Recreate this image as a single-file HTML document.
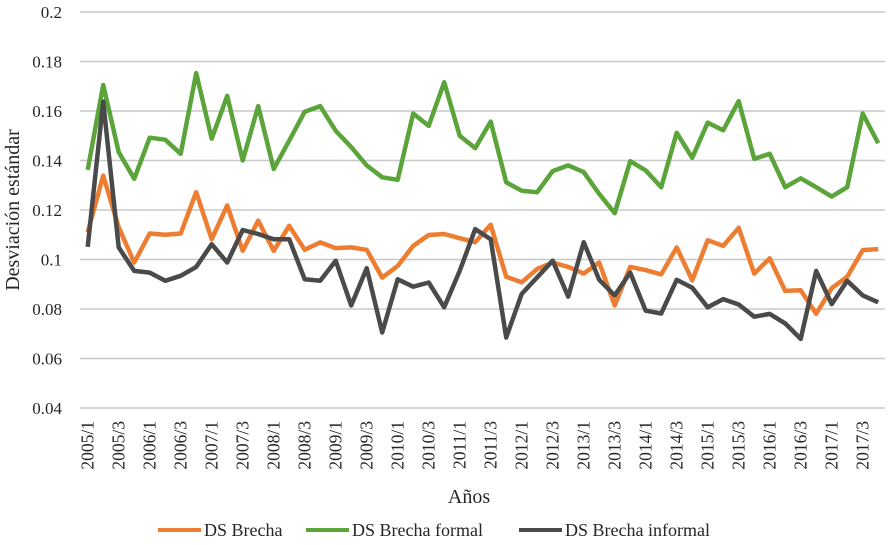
<!DOCTYPE html>
<html><head><meta charset="utf-8"><style>
body{margin:0;background:#fff;}
svg text{font-family:"Liberation Serif",serif;fill:#262626;}
</style></head><body>
<svg id="chart" width="891" height="540" xmlns="http://www.w3.org/2000/svg">
<g id="grid"></g><g id="yticks"></g><g id="xticks"></g><g id="series"></g>
<text x="19" y="210" font-size="20" text-anchor="middle" transform="rotate(-90 19 210)">Desviación estándar</text>
<text x="469" y="503" font-size="20" text-anchor="middle">Años</text>
<g>
<g><line x1="158" y1="530" x2="201" y2="530" stroke="#ED7D31" stroke-width="4"/><text x="204" y="536" font-size="18">DS Brecha</text></g>
<g><line x1="306" y1="530" x2="349" y2="530" stroke="#5AA43A" stroke-width="4"/><text x="352" y="536" font-size="18">DS Brecha formal</text></g>
<g><line x1="519" y1="530" x2="562" y2="530" stroke="#4A4A4A" stroke-width="4"/><text x="565" y="536" font-size="18">DS Brecha informal</text></g>
</g>
</svg>
<script>
const yTicks=[0.04,0.06,0.08,0.1,0.12,0.14,0.16,0.18,0.2];
const yTickLabels=["0.04","0.06","0.08","0.1","0.12","0.14","0.16","0.18","0.2"];
const years=[2005,2006,2007,2008,2009,2010,2011,2012,2013,2014,2015,2016,2017];
const dsBrecha=[0.111,0.1339,0.113,0.0988,0.1105,0.110,0.1105,0.1272,0.1082,0.1218,0.1035,0.1157,0.1035,0.1136,0.1039,0.1069,0.1046,0.1049,0.1039,0.0927,0.0974,0.1055,0.1099,0.1103,0.1086,0.107,0.114,0.093,0.0908,0.0962,0.0988,0.097,0.0943,0.0988,0.0814,0.097,0.0957,0.094,0.1049,0.0916,0.1078,0.1055,0.1128,0.0943,0.1005,0.0873,0.0876,0.078,0.0884,0.093,0.1038,0.1042];
const dsFormal=[0.1362,0.1705,0.1434,0.1326,0.1492,0.1484,0.1427,0.1753,0.1488,0.1661,0.14,0.162,0.1366,0.148,0.1597,0.162,0.152,0.1454,0.138,0.1332,0.1322,0.159,0.154,0.1716,0.150,0.145,0.1557,0.1312,0.1278,0.1272,0.1357,0.138,0.1353,0.1265,0.1187,0.1397,0.136,0.1292,0.1512,0.1411,0.1553,0.1522,0.164,0.1407,0.1427,0.1292,0.1328,0.1292,0.1254,0.1292,0.159,0.147];
const dsInformal=[0.1051,0.1638,0.1049,0.0954,0.0947,0.0914,0.0934,0.097,0.1062,0.0988,0.1119,0.1103,0.1082,0.1082,0.092,0.0914,0.0995,0.0814,0.0965,0.0705,0.092,0.089,0.0907,0.0807,0.0954,0.1123,0.1082,0.0685,0.0861,0.0928,0.0995,0.085,0.107,0.0918,0.0855,0.0947,0.0793,0.0782,0.0918,0.0886,0.0807,0.084,0.0818,0.0769,0.078,0.0742,0.0679,0.0954,0.082,0.0914,0.0855,0.0827];
const NS="http://www.w3.org/2000/svg";
const x0=87.7, dx=15.5;
function xPos(i){return x0+dx*i;}
function yPos(v){return 408-(v-0.04)/0.16*396;}
const grid=document.getElementById('grid'),yt=document.getElementById('yticks'),xt=document.getElementById('xticks'),ser=document.getElementById('series');
yTicks.forEach((v,k)=>{
 const l=document.createElementNS(NS,'line');
 l.setAttribute('x1',80);l.setAttribute('x2',885);l.setAttribute('y1',yPos(v));l.setAttribute('y2',yPos(v));
 l.setAttribute('stroke','#c8c8c8');l.setAttribute('stroke-width','1.5');
 
 
 grid.appendChild(l);
 const t=document.createElementNS(NS,'text');
 t.setAttribute('x',62);t.setAttribute('y',yPos(v)+6);t.setAttribute('text-anchor','end');t.setAttribute('font-size','17');
 t.textContent=yTickLabels[k];
 
 
 yt.appendChild(t);
});
let idx=0;
years.forEach(y=>{[1,3].forEach(q=>{
 const i=idx*2; idx++;
 const t=document.createElementNS(NS,'text');
 const cx=xPos(i)+6;
 t.setAttribute('x',cx);t.setAttribute('y',421);t.setAttribute('text-anchor','end');t.setAttribute('font-size','17.5');
 t.setAttribute('transform','rotate(-90 '+cx+' 421)');
 t.textContent=y+'/'+q;
 
 
 xt.appendChild(t);
});});
[[dsBrecha,'#ED7D31','series-ds-brecha'],[dsFormal,'#5AA43A','series-ds-brecha-formal'],[dsInformal,'#4A4A4A','series-ds-brecha-informal']].forEach(([d,c,n])=>{
 const p=document.createElementNS(NS,'polyline');
 p.setAttribute('points',d.map((v,i)=>xPos(i).toFixed(1)+','+yPos(v).toFixed(1)).join(' '));
 p.setAttribute('fill','none');p.setAttribute('stroke',c);p.setAttribute('stroke-width','4.5');p.setAttribute('stroke-linejoin','round');
 
 
 ser.appendChild(p);
});
</script>
</body></html>
